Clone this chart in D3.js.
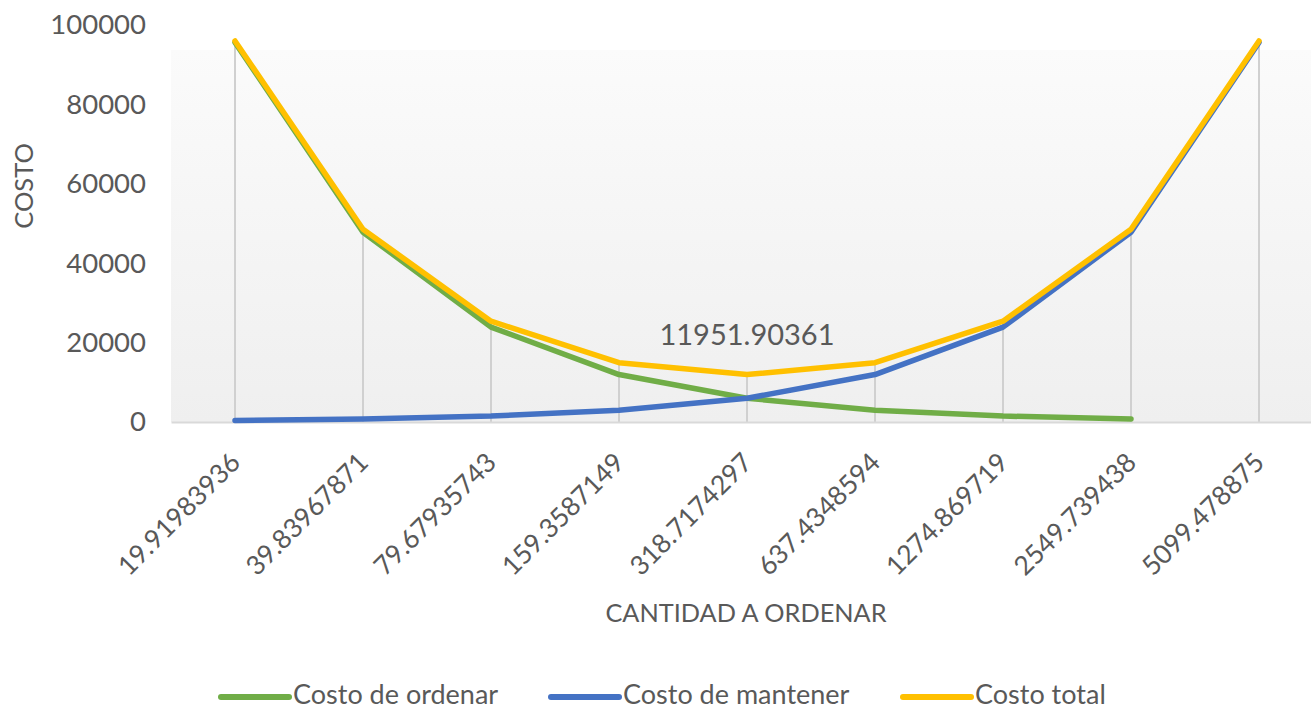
<!DOCTYPE html>
<html><head><meta charset="utf-8">
<script src="https://cdn.jsdelivr.net/npm/d3@7"></script>
<style>html,body{margin:0;padding:0;background:#fff;}svg{display:block;}</style>
</head><body><svg id="c" width="1311" height="711"></svg>
<script>
const categories = ["19.91983936","39.83967871","79.67935743","159.3587149","318.7174297","637.4348594","1274.869719","2549.739438","5099.478875"];
const costoOrdenar = [95615.4, 47807.7, 23903.8, 11951.9, 5975.95, 2988.0, 1494.0, 747.0];
const costoMantener = [373.5, 747.0, 1494.0, 2988.0, 5975.95, 11951.9, 23903.8, 47807.7, 95615.4];
const costoTotal = [95988.9, 48554.7, 25397.8, 14939.9, 11951.90361, 14939.9, 25397.8, 48554.7, 95988.9];
const yTicks = [0, 20000, 40000, 60000, 80000, 100000];
const seriesNames = ["Costo de ordenar", "Costo de mantener", "Costo total"];
const seriesColors = ["#70ad47", "#4472c4", "#ffc000"];
const dataLabel = {index: 4, text: "11951.90361"};

const svg = d3.select("#c");
const font = "Lato, 'Open Sans', sans-serif";
const textColor = "#595959";
const pLeft = 171, pRight = 1323, pTop = 25, pBottom = 422;

const x = d3.scaleBand().domain(categories).range([pLeft, pRight]);
const cx = d => x(d) + x.bandwidth() / 2;
const y = d3.scaleLinear().domain([0, 100000]).range([pBottom, pTop]);

// background gradient
const defs = svg.append("defs");
const g = defs.append("linearGradient").attr("id", "bg").attr("x1", 0).attr("y1", 0).attr("x2", 0).attr("y2", 1);
g.append("stop").attr("offset", "0%").attr("stop-color", "#fbfbfb");
g.append("stop").attr("offset", "100%").attr("stop-color", "#efefef");
svg.append("rect").attr("x", pLeft).attr("y", 50).attr("width", pRight - pLeft).attr("height", pBottom - 50).attr("fill", "url(#bg)");

// drop lines
svg.append("g").selectAll("line").data(categories).join("line")
  .attr("x1", d => cx(d)).attr("x2", d => cx(d))
  .attr("y1", (d, i) => y(Math.max(costoTotal[i], costoOrdenar[i] || 0, costoMantener[i])))
  .attr("y2", pBottom)
  .attr("stroke", "#d0d0d0").attr("stroke-width", 2);

// x axis
const xAxis = svg.append("g").attr("transform", `translate(0,${pBottom})`)
  .call(d3.axisBottom(x).tickSize(0).tickPadding(0));
xAxis.select(".domain").attr("stroke", "#d9d9d9").attr("stroke-width", 2);
xAxis.selectAll("text")
  .attr("font-family", font).attr("font-size", 26.5).attr("fill", textColor)
  .attr("text-anchor", "end").attr("dy", null).attr("y", 0)
  .attr("transform", "translate(7,42) rotate(-45)");

// y axis
const yAxis = svg.append("g").attr("transform", `translate(146,0)`)
  .call(d3.axisLeft(y).tickValues(yTicks).tickSize(0).tickPadding(0).tickFormat(d3.format("d")));
yAxis.select(".domain").remove();
yAxis.selectAll("text").attr("font-family", font).attr("font-size", 27.5).attr("fill", textColor);

// lines
const series = [costoOrdenar, costoMantener, costoTotal];
const line = d3.line().x((d, i) => cx(categories[i])).y(d => y(d));
series.forEach((s, k) => {
  svg.append("path").datum(s).attr("d", line)
    .attr("fill", "none").attr("stroke", seriesColors[k]).attr("stroke-width", 5.5)
    .attr("stroke-linejoin", "round").attr("stroke-linecap", "round");
});

// data label
svg.append("text").attr("x", cx(categories[dataLabel.index])).attr("y", y(costoTotal[dataLabel.index]) - 30)
  .attr("text-anchor", "middle").attr("font-family", font).attr("font-size", 29).attr("fill", textColor)
  .text(dataLabel.text);

// axis titles
svg.append("text").attr("x", 746).attr("y", 622).attr("text-anchor", "middle")
  .attr("font-family", font).attr("font-size", 25.3).attr("fill", textColor).text("CANTIDAD A ORDENAR");
svg.append("text").attr("transform", "translate(33,186) rotate(-90)").attr("text-anchor", "middle")
  .attr("font-family", font).attr("font-size", 25.5).attr("fill", textColor).text("COSTO");

// legend
const legendX = [221, 551, 903];
const lg = svg.append("g");
seriesNames.forEach((n, k) => {
  lg.append("line").attr("x1", legendX[k]).attr("x2", legendX[k] + 68).attr("y1", 697).attr("y2", 697)
    .attr("stroke", seriesColors[k]).attr("stroke-width", 6).attr("stroke-linecap", "round");
  lg.append("text").attr("x", legendX[k] + 72).attr("y", 704)
    .attr("font-family", font).attr("font-size", 27).attr("fill", textColor).text(n);
});
</script></body></html>
